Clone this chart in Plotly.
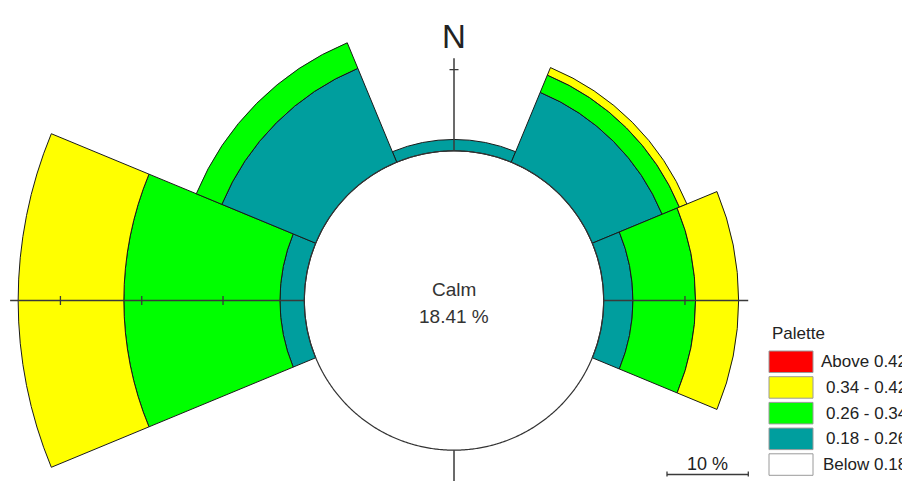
import numpy as np
import plotly.graph_objects as go

# ---------------- data ----------------
directions = ['N', 'NE', 'E', 'SE', 'S', 'SW', 'W', 'NW']
direction_deg = [0, 45, 90, 135, 180, 225, 270, 315]
calm_pct = 18.41
freq_018_026 = [1.4, 9.3, 3.6, 0.0, 0.0, 0.0, 3.0, 12.5]
freq_026_034 = [0.0, 2.3, 7.7, 0.0, 0.0, 0.0, 19.2, 3.4]
freq_034_042 = [0.0, 1.0, 5.3, 0.0, 0.0, 0.0, 13.0, 0.0]
freq_above_042 = [0.0, 0.0, 0.0, 0.0, 0.0, 0.0, 0.0, 0.0]

class_labels = ['Above 0.42', '0.34 - 0.42', '0.26 - 0.34', '0.18 - 0.26', 'Below 0.18']
class_colors = ['#FF0000', '#FFFF00', '#00FF00', '#009E9E', '#FFFFFF']

axis_directions = [0, 90, 180, 270]
axis_lengths = [29.8, 36.2, 22.6, 54.6]
tick_step = 10
scale_bar_pct = 10

# ---------------- geometry / style ----------------
W, H = 910, 481
OFF = 8.0                    # page offset of the plot div (body margin)
CX, CY = 454.0, 300.5        # centre of the rose in page px
K = 8.13                     # px per percent
SECTOR_PAD = 1.5
R_PAD = 0.4
OUTLINE = '#1a1a1a'
AXIS_COL = '#3a3a3a'
TEXT_COL = '#222222'
FONT = 'Liberation Sans, Arial, sans-serif'

bands = [
    (freq_018_026, class_colors[3], class_labels[3]),
    (freq_026_034, class_colors[2], class_labels[2]),
    (freq_034_042, class_colors[1], class_labels[1]),
    (freq_above_042, class_colors[0], class_labels[0]),
]


def sector_bbox(a0, a1):
    ang = list(np.linspace(a0, a1, 400)) + [c for c in range(-360, 721, 90) if a0 <= c <= a1]
    ang = np.radians(np.array(ang))
    xs, ys = np.cos(ang), np.sin(ang)
    return min(xs.min(), 0), min(ys.min(), 0), max(xs.max(), 0), max(ys.max(), 0)


def domain_for(rpx, bbox):
    bx0, by0, bx1, by1 = bbox
    cx, cy = CX - OFF, CY - OFF
    dx = [(cx + rpx * bx0) / W, (cx + rpx * bx1) / W]
    dy = [(H - (cy - rpx * by0)) / H, (H - (cy - rpx * by1)) / H]
    clamp = lambda v: float(min(1.0, max(0.0, v)))
    return [clamp(v) for v in dx], [clamp(v) for v in dy]


def hidden_axes(rmax):
    return dict(
        radialaxis=dict(range=[0, rmax], visible=False, showgrid=False, showline=False,
                        showticklabels=False, ticks=''),
        angularaxis=dict(direction='clockwise', rotation=90, visible=False, showgrid=False,
                         showline=False, showticklabels=False, ticks=''),
    )


fig = go.Figure()
layout_polars = {}
n_sub = 0


def new_key():
    global n_sub
    n_sub += 1
    return 'polar' if n_sub == 1 else f'polar{n_sub}'


# one polar sector per direction so that long petals are not clipped
for i, d in enumerate(direction_deg):
    key = new_key()
    base = calm_pct
    for vals, col, lab in bands:
        v = vals[i]
        if v > 0:
            fig.add_trace(go.Barpolar(
                r=[v], theta=[d], base=[base], width=[45], subplot=key,
                marker=dict(color=col, line=dict(color=OUTLINE, width=1)),
                name=lab, showlegend=False, hoverinfo='skip'))
        base += v
    rr = max(base, calm_pct) + R_PAD
    mid = 90 - d
    sec = [mid - 22.5 - SECTOR_PAD, mid + 22.5 + SECTOR_PAD]
    dx, dy = domain_for(rr * K, sector_bbox(*sec))
    layout_polars[key] = dict(domain=dict(x=dx, y=dy), bgcolor='rgba(0,0,0,0)', barmode='overlay',
                              sector=sec, **hidden_axes(rr))

# calm circle
key = new_key()
RR_OV = 21.0
dx, dy = domain_for(RR_OV * K, (-1, -1, 1, 1))
layout_polars[key] = dict(domain=dict(x=dx, y=dy), bgcolor='rgba(0,0,0,0)', **hidden_axes(RR_OV))
theta_c = np.linspace(0, 360, 721)
fig.add_trace(go.Scatterpolar(r=np.full(theta_c.shape, calm_pct), theta=theta_c, mode='lines',
                              line=dict(color='#333333', width=1.2), subplot=key,
                              showlegend=False, hoverinfo='skip'))

# compass axes with ticks every 10 % beyond the calm circle
for ad, alen in zip(axis_directions, axis_lengths):
    key = new_key()
    rr = alen + 0.05
    mid = 90 - ad
    sec = [mid - 4, mid + 4]
    dx, dy = domain_for(rr * K, sector_bbox(*sec))
    layout_polars[key] = dict(domain=dict(x=dx, y=dy), bgcolor='rgba(0,0,0,0)', sector=sec,
                              **hidden_axes(rr))
    fig.add_trace(go.Scatterpolar(r=[calm_pct, alen], theta=[ad, ad], mode='lines',
                                  line=dict(color=AXIS_COL, width=1.5), subplot=key,
                                  showlegend=False, hoverinfo='skip'))
    tr, tt = [], []
    half = 4.5 / K
    t = calm_pct + tick_step
    while t < alen:
        rr_t = float(np.hypot(t, half))
        da = float(np.degrees(np.arctan2(half, t)))
        tr += [rr_t, rr_t, None]
        tt += [ad - da, ad + da, None]
        t += tick_step
    if tr:
        fig.add_trace(go.Scatterpolar(r=tr, theta=tt, mode='lines',
                                      line=dict(color=AXIS_COL, width=1.3), subplot=key,
                                      showlegend=False, hoverinfo='skip'))

# ---------------- texts / legend (page coordinates) ----------------
px = lambda x: (x - OFF) / W
py = lambda y: 1 - (y - OFF) / H
ann = []
ann.append(dict(x=px(CX), y=py(36), text='N', showarrow=False, xanchor='center', yanchor='middle',
                font=dict(family=FONT, size=33, color=TEXT_COL)))
ann.append(dict(x=px(CX), y=py(289), text='Calm', showarrow=False, xanchor='center', yanchor='middle',
                font=dict(family=FONT, size=19, color='#333333')))
ann.append(dict(x=px(CX), y=py(316), text=f'{calm_pct:.2f} %', showarrow=False, xanchor='center',
                yanchor='middle', font=dict(family=FONT, size=19, color='#333333')))
ann.append(dict(x=px(770), y=py(333), text='Palette', showarrow=False, xanchor='left', yanchor='middle',
                font=dict(family=FONT, size=17, color=TEXT_COL)))

shapes = []
box_top0, box_step, box_h = 351.0, 25.7, 21.5
for k, (lab, col) in enumerate(zip(class_labels, class_colors)):
    top = box_top0 + k * box_step
    shapes.append(dict(type='rect', xref='paper', yref='paper', x0=px(769), x1=px(813),
                       y0=py(top + box_h), y1=py(top), fillcolor=col,
                       line=dict(color='#9a9a9a', width=1)))
    ann.append(dict(x=px(909), y=py(top + box_h / 2), text=lab, showarrow=False, xanchor='right',
                    yanchor='middle', font=dict(family=FONT, size=17, color=TEXT_COL)))

# scale bar
sb_x0, sb_y = 667.0, 474.5
sb_x1 = sb_x0 + scale_bar_pct * K
shapes.append(dict(type='line', xref='paper', yref='paper', x0=px(sb_x0), x1=px(sb_x1),
                   y0=py(sb_y), y1=py(sb_y), line=dict(color=AXIS_COL, width=1.5)))
for xx in (sb_x0, sb_x1):
    shapes.append(dict(type='line', xref='paper', yref='paper', x0=px(xx), x1=px(xx),
                       y0=py(sb_y - 3), y1=py(sb_y + 2), line=dict(color=AXIS_COL, width=1.3)))
ann.append(dict(x=px((sb_x0 + sb_x1) / 2), y=py(464), text=f'{scale_bar_pct} %', showarrow=False,
                xanchor='center', yanchor='middle', font=dict(family=FONT, size=18, color=TEXT_COL)))

fig.update_layout(
    width=W, height=H, autosize=False,
    margin=dict(l=0, r=0, t=0, b=0, pad=0),
    paper_bgcolor='white', plot_bgcolor='white',
    showlegend=False,
    annotations=ann, shapes=shapes,
    **layout_polars,
)

fig.write_html('out.html')
